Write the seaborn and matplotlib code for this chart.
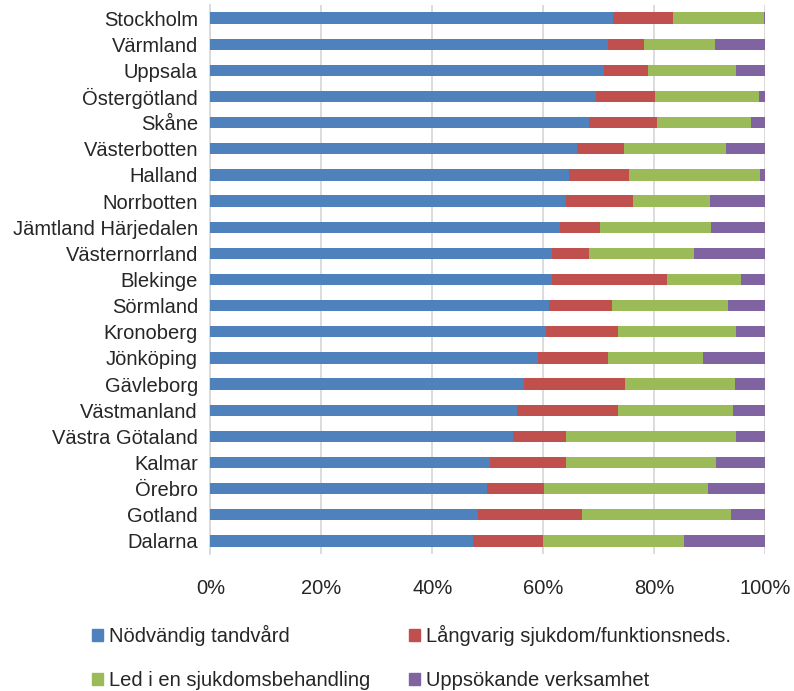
import matplotlib.pyplot as plt
import matplotlib.patches as mpatches
import seaborn as sns
import pandas as pd

# Data (share of patients, %)
regions = ["Stockholm", "Värmland", "Uppsala", "Östergötland", "Skåne",
           "Västerbotten", "Halland", "Norrbotten", "Jämtland Härjedalen",
           "Västernorrland", "Blekinge", "Sörmland", "Kronoberg", "Jönköping",
           "Gävleborg", "Västmanland", "Västra Götaland", "Kalmar", "Örebro",
           "Gotland", "Dalarna"]
nodvandig = [72.5, 71.6, 71.0, 69.4, 68.3, 66.1, 64.7, 64.0, 63.0, 61.6, 61.5,
             61.1, 60.4, 59.0, 56.5, 55.2, 54.6, 50.4, 49.9, 48.2, 47.4]
langvarig = [10.9, 6.6, 7.9, 10.8, 12.1, 8.5, 10.7, 12.2, 7.2, 6.6, 20.7,
             11.3, 13.1, 12.6, 18.3, 18.3, 9.5, 13.7, 10.2, 18.8, 12.5]
led_behandling = [16.4, 12.7, 15.8, 18.7, 17.1, 18.3, 23.6, 13.9, 20.1, 19.0, 13.5,
                  20.9, 21.3, 17.1, 19.7, 20.7, 30.6, 27.0, 29.5, 26.8, 25.4]
uppsokande = [0.2, 9.1, 5.3, 1.1, 2.5, 7.1, 1.0, 9.9, 9.7, 12.8, 4.3,
              6.7, 5.2, 11.3, 5.5, 5.8, 5.3, 8.9, 10.4, 6.2, 14.7]

series_names = ["Nödvändig tandvård", "Långvarig sjukdom/funktionsneds.",
                "Led i en sjukdomsbehandling", "Uppsökande verksamhet"]
colors = ["#4F81BD", "#C0504D", "#9BBB59", "#8064A2"]
xticks = [0, 20, 40, 60, 80, 100]

df = pd.DataFrame({"Län": regions})
running = [0.0] * len(regions)
cum_cols = []
for name, vals in zip(series_names, [nodvandig, langvarig, led_behandling, uppsokande]):
    running = [r + v for r, v in zip(running, vals)]
    df[name] = running
    cum_cols.append(name)

sns.set_style("white")
plt.rcParams["font.family"] = ["Liberation Sans", "DejaVu Sans"]
fs = 14.5

fig = plt.figure(figsize=(7.94, 6.91), dpi=100)
ax = fig.add_axes([210.5 / 794, 1 - 554 / 691, 554.8 / 794, 549 / 691])

# stacked bars: draw cumulative totals from the largest down
for col, color in reversed(list(zip(cum_cols, colors))):
    sns.barplot(data=df, x=col, y="Län", color=color, saturation=1,
                width=0.43, orient="h", ax=ax, edgecolor="none", zorder=3)

ax.set_xlim(0, 100)
ax.set_xticks(xticks)
ax.set_xticklabels([f"{t}%" for t in xticks], fontsize=fs)
ax.tick_params(axis="y", labelsize=fs, length=0, pad=9)
ax.tick_params(axis="x", length=0, pad=18)
ax.xaxis.grid(True, color="#d9d9d9", linewidth=1.3)
ax.set_axisbelow(True)
for s in ["top", "right", "bottom"]:
    ax.spines[s].set_visible(False)
ax.spines["left"].set_color("#d9d9d9")
ax.spines["left"].set_linewidth(1.3)
ax.set_xlabel("")
ax.set_ylabel("")

handles = [mpatches.Patch(color=c) for c in colors]
order = [0, 2, 1, 3]
fig.legend([handles[i] for i in order], [series_names[i] for i in order],
           loc="upper left", bbox_to_anchor=(92 / 794, 1 - 625 / 691),
           ncol=2, frameon=False, fontsize=fs, handlelength=0.55,
           handleheight=0.55, handletextpad=0.3, columnspacing=1.9,
           labelspacing=1.25, borderpad=0, borderaxespad=0)

fig.savefig("out.png", dpi=100)
